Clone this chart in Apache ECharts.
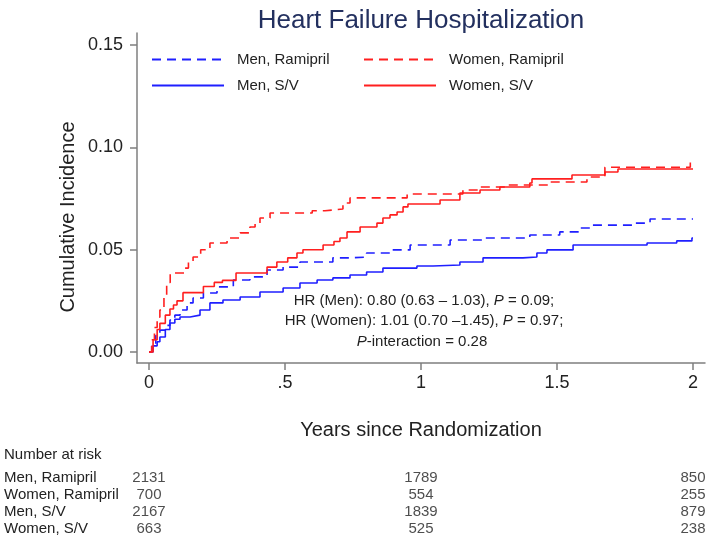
<!DOCTYPE html>
<html>
<head>
<meta charset="utf-8">
<title>Heart Failure Hospitalization</title>
<script src="https://cdn.jsdelivr.net/npm/echarts@6.0.0/dist/echarts.min.js"></script>
<style>
  html, body { margin: 0; padding: 0; background: #fff; }
  #chart { width: 709px; height: 538px; }
</style>
</head>
<body>
<div id="chart"></div>
<script>
"use strict";

// curves: [years, cumulative incidence]
var menRamipril = [[0,0],[0.01,0.004],[0.025,0.008],[0.04,0.0107],[0.06,0.013],[0.077,0.0156],[0.095,0.018],[0.114,0.0205],[0.14,0.024],[0.162,0.0264],[0.2,0.0288],[0.25,0.0318],[0.31,0.0352],[0.371,0.0367],[0.434,0.0401],[0.493,0.0415],[0.555,0.044],[0.676,0.046],[0.739,0.0464],[0.8,0.0484],[0.886,0.0499],[0.96,0.0523],[1.107,0.0547],[1.228,0.0557],[1.4,0.0572],[1.51,0.0587],[1.585,0.0606],[1.632,0.062],[1.78,0.063],[1.842,0.065],[2,0.065]];
var womenRamipril = [[0,0],[0.01,0.006],[0.02,0.012],[0.03,0.017],[0.04,0.0205],[0.055,0.028],[0.065,0.034],[0.078,0.0386],[0.13,0.041],[0.145,0.044],[0.162,0.0464],[0.19,0.05],[0.224,0.0533],[0.287,0.0557],[0.335,0.0582],[0.371,0.0611],[0.39,0.063],[0.408,0.0655],[0.445,0.0679],[0.6,0.069],[0.647,0.0699],[0.713,0.0728],[0.739,0.0753],[0.949,0.0772],[1.154,0.0792],[1.217,0.0806],[1.31,0.0816],[1.474,0.0831],[1.61,0.0855],[1.676,0.0903],[1.99,0.0938],[2,0.0938]];
var menSV = [[0,0],[0.015,0.003],[0.03,0.005],[0.04,0.0073],[0.06,0.011],[0.077,0.0142],[0.095,0.016],[0.114,0.0171],[0.151,0.018],[0.1875,0.0205],[0.224,0.024],[0.272,0.0254],[0.335,0.0269],[0.408,0.0293],[0.493,0.0313],[0.555,0.0337],[0.618,0.0352],[0.676,0.0362],[0.739,0.0376],[0.8,0.0391],[0.86,0.041],[0.985,0.042],[1.044,0.0425],[1.143,0.044],[1.228,0.046],[1.375,0.0464],[1.426,0.0484],[1.463,0.0499],[1.559,0.0523],[1.831,0.0533],[1.94,0.0543],[1.996,0.0557],[2,0.0557]];
var womenSV = [[0,0],[0.015,0.006],[0.03,0.011],[0.04,0.014],[0.06,0.018],[0.077,0.021],[0.09,0.023],[0.103,0.025],[0.125,0.029],[0.2,0.032],[0.24,0.034],[0.27,0.035],[0.32,0.0386],[0.434,0.0415],[0.47,0.044],[0.51,0.046],[0.544,0.0484],[0.566,0.05],[0.64,0.0523],[0.68,0.054],[0.702,0.0557],[0.728,0.0587],[0.776,0.0611],[0.838,0.063],[0.86,0.0655],[0.886,0.067],[0.912,0.0684],[0.934,0.0709],[0.952,0.0723],[1.07,0.0743],[1.143,0.0777],[1.217,0.0792],[1.29,0.0806],[1.4,0.0826],[1.408,0.0846],[1.555,0.0865],[1.676,0.088],[1.724,0.0894],[2,0.0894]];

var xTickValues = [0, 0.5, 1, 1.5, 2];
var xTickLabels = ['0', '.5', '1', '1.5', '2'];
var yTickValues = [0, 0.05, 0.10, 0.15];
var yTickLabels = ['0.00', '0.05', '0.10', '0.15'];

// number at risk table
var riskGroups = ['Men, Ramipril', 'Women, Ramipril', 'Men, S/V', 'Women, S/V'];
var riskTimes = [0, 1, 2];
var riskMenRamipril = [2131, 1789, 850];
var riskWomenRamipril = [700, 554, 255];
var riskMenSV = [2167, 1839, 879];
var riskWomenSV = [663, 525, 238];

var FONT = 'Liberation Sans, Arial, sans-serif';
var BLUE = '#1f1fff';
var RED = '#ff1f1f';
var AXIS = '#7f7f7f';

var riskRows = [riskMenRamipril, riskWomenRamipril, riskMenSV, riskWomenSV];
var riskData = [];
riskRows.forEach(function (row, r) {
    row.forEach(function (n, c) {
        riskData.push([riskTimes[c], riskGroups[r], n]);
    });
});

function curve(name, data, color, dashed) {
    return {
        name: name,
        type: 'line',
        step: 'end',
        data: data,
        symbol: 'none',
        xAxisIndex: 0,
        yAxisIndex: 0,
        lineStyle: { color: color, width: 1.6, type: dashed ? [9, 6] : 'solid' },
        itemStyle: { color: color },
        emphasis: { disabled: true }
    };
}

function legendCol(names, left) {
    return {
        data: names,
        orient: 'vertical',
        left: left,
        top: 52,
        padding: 0,
        itemWidth: 72,
        itemHeight: 14,
        itemGap: 11,
        selectedMode: false,
        itemStyle: { opacity: 0 },
        textStyle: { fontFamily: FONT, fontSize: 15, color: '#222', padding: [0, 0, 0, 8] }
    };
}

var chart = echarts.init(document.getElementById('chart'), null, { renderer: 'canvas' });

var options = {
    animation: false,
    textStyle: { fontFamily: FONT },
    title: {
        text: 'Heart Failure Hospitalization',
        left: 416,
        top: 3,
        textAlign: 'center',
        textStyle: { fontFamily: FONT, fontSize: 26, fontWeight: 'normal', color: '#23305f' }
    },
    legend: [
        legendCol(['Men, Ramipril', 'Men, S/V'], 151),
        legendCol(['Women, Ramipril', 'Women, S/V'], 363)
    ],
    grid: [
        { left: 137, right: 4, top: 33, bottom: 175 },
        { left: 137, right: 4, top: 468.75, height: 74 }
    ],
    xAxis: [{
        gridIndex: 0,
        type: 'value',
        min: -0.0441,
        max: 2.044,
        name: 'Years since Randomization',
        nameLocation: 'middle',
        nameGap: 57,
        nameTextStyle: { fontFamily: FONT, fontSize: 20, color: '#222' },
        splitLine: { show: false },
        axisLine: { onZero: false, lineStyle: { color: AXIS, width: 1.5 } },
        axisTick: { customValues: xTickValues, length: 7, lineStyle: { color: AXIS, width: 1.5 } },
        axisLabel: {
            customValues: xTickValues,
            margin: 11,
            fontFamily: FONT,
            fontSize: 18,
            color: '#222',
            formatter: function (v) {
                var i = xTickValues.indexOf(v);
                return i >= 0 ? xTickLabels[i] : '';
            }
        }
    }, {
        gridIndex: 1,
        type: 'value',
        min: -0.0441,
        max: 2.044,
        show: false
    }],
    yAxis: [{
        gridIndex: 0,
        type: 'value',
        min: -0.00538,
        max: 0.1559,
        splitLine: { show: false },
        axisLine: { show: true, onZero: false, lineStyle: { color: AXIS, width: 1.5 } },
        axisTick: { show: true, customValues: yTickValues, length: 7, lineStyle: { color: AXIS, width: 1.5 } },
        axisLabel: {
            customValues: yTickValues,
            margin: 14,
            fontFamily: FONT,
            fontSize: 18,
            color: '#222',
            formatter: function (v) {
                for (var i = 0; i < yTickValues.length; i++) {
                    if (Math.abs(yTickValues[i] - v) < 1e-6) return yTickLabels[i];
                }
                return '';
            }
        }
    }, {
        gridIndex: 1,
        type: 'category',
        data: riskGroups,
        inverse: true,
        axisLine: { show: false },
        axisTick: { show: false },
        splitLine: { show: false },
        axisLabel: {
            interval: 0,
            margin: 133,
            align: 'left',
            fontFamily: FONT,
            fontSize: 15,
            color: '#222'
        }
    }],
    graphic: [{
        type: 'text',
        x: 68,
        y: 217,
        rotation: Math.PI / 2,
        style: {
            text: 'Cumulative Incidence',
            fontFamily: FONT,
            fontSize: 20,
            fill: '#222',
            align: 'center',
            verticalAlign: 'middle'
        }
    }, {
        type: 'text',
        x: 424,
        y: 301,
        style: {
            text: 'HR (Men): 0.80 (0.63 \u2013 1.03), {i|P} = 0.09;',
            rich: { i: { fontStyle: 'italic', fontFamily: FONT, fontSize: 15, fill: '#222' } },
            fontFamily: FONT,
            fontSize: 15,
            fill: '#222',
            align: 'center',
            verticalAlign: 'middle'
        }
    }, {
        type: 'text',
        x: 424,
        y: 321,
        style: {
            text: 'HR (Women): 1.01 (0.70 \u20131.45), {i|P} = 0.97;',
            rich: { i: { fontStyle: 'italic', fontFamily: FONT, fontSize: 15, fill: '#222' } },
            fontFamily: FONT,
            fontSize: 15,
            fill: '#222',
            align: 'center',
            verticalAlign: 'middle'
        }
    }, {
        type: 'text',
        x: 422,
        y: 342,
        style: {
            text: '{i|P}-interaction = 0.28',
            rich: { i: { fontStyle: 'italic', fontFamily: FONT, fontSize: 15, fill: '#222' } },
            fontFamily: FONT,
            fontSize: 15,
            fill: '#222',
            align: 'center',
            verticalAlign: 'middle'
        }
    }, {
        type: 'text',
        x: 4,
        y: 455,
        style: {
            text: 'Number at risk',
            fontFamily: FONT,
            fontSize: 15,
            fill: '#222',
            align: 'left',
            verticalAlign: 'middle'
        }
    }],
    series: [
        curve('Men, Ramipril', menRamipril, BLUE, true),
        curve('Men, S/V', menSV, BLUE, false),
        curve('Women, Ramipril', womenRamipril, RED, true),
        curve('Women, S/V', womenSV, RED, false),
        {
            name: 'Number at risk',
            type: 'scatter',
            xAxisIndex: 1,
            yAxisIndex: 1,
            data: riskData,
            symbolSize: 1,
            itemStyle: { color: 'rgba(0,0,0,0)' },
            emphasis: { disabled: true },
            label: {
                show: true,
                position: 'inside',
                fontFamily: FONT,
                fontSize: 15,
                color: '#222',
                formatter: function (p) { return String(p.value[2]); }
            }
        }
    ]
};

chart.setOption(options);
</script>
</body>
</html>
